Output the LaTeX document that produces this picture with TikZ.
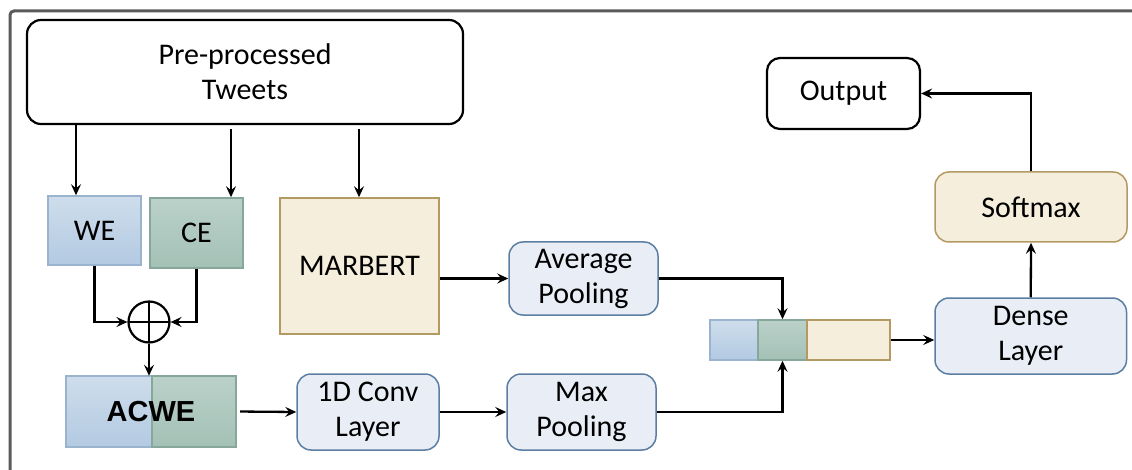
\documentclass[tikz,border=0pt]{standalone}
\usepackage{fontspec}
\setmainfont{Carlito}
\setsansfont{Liberation Sans}
\usetikzlibrary{arrows.meta,calc}

\definecolor{frameg}{HTML}{5A5A5A}
\definecolor{weTop}{HTML}{CEDDEB}
\definecolor{weBot}{HTML}{B3CAE2}
\definecolor{weLine}{HTML}{9AB4D0}
\definecolor{ceTop}{HTML}{BAD1C9}
\definecolor{ceBot}{HTML}{A4C1B6}
\definecolor{ceLine}{HTML}{87A79B}
\definecolor{beige}{HTML}{F6EEDC}
\definecolor{beigeLine}{HTML}{B39A62}
\definecolor{layerFill}{HTML}{E9EEF6}
\definecolor{layerLine}{HTML}{5C7EA2}

\tikzset{
  txt/.style={font=\fontsize{30}{35}\selectfont, align=center, inner sep=0pt},
  whitebox/.style={txt, draw=black, line width=2.2pt, fill=white, rounded corners=14pt},
  layerbox/.style={txt, draw=layerLine, line width=1.5pt, fill=layerFill, rounded corners=14pt},
  softbox/.style={txt, draw=beigeLine, line width=1.5pt, fill=beige, rounded corners=14pt},
  weblock/.style={txt, draw=weLine, line width=1.5pt, top color=weTop, bottom color=weBot},
  ceblock/.style={txt, draw=ceLine, line width=1.5pt, top color=ceTop, bottom color=ceBot},
  beblock/.style={txt, draw=beigeLine, line width=1.5pt, fill=beige},
  arr/.style={-{Stealth[length=11pt,width=10pt,inset=4pt]}, line width=2.3pt, black},
}

\begin{document}
\begin{tikzpicture}[x=1pt,y=-1pt]
\useasboundingbox (0,0) rectangle (1132,470);
% white page, reaching a little past the page edges
\fill[white] (-8,-8) rectangle (1140,478);

% outer frame: left and top edges only
\draw[frameg, line width=3pt] (10,478) -- (10,15) arc[start angle=180, end angle=270, radius=4] -- (1140,11);

% input and output
\node[whitebox, minimum width=436pt, minimum height=104pt] (tweets) at (245,72) {Pre-processed\\Tweets};
\node[whitebox, rounded corners=13pt, minimum width=153pt, minimum height=71pt] (output) at (843.5,93.5) {Output};

% embeddings
\node[weblock, minimum width=93pt, minimum height=69pt] (we) at (94.5,230.5) {WE};
\node[ceblock, minimum width=93pt, minimum height=70pt] (ce) at (196.5,233) {CE};
\node[beblock, minimum width=159pt, minimum height=136pt] (marbert) at (359.5,266) {MARBERT};

% element-wise sum
\node[circle, draw=black, line width=2.2pt, minimum size=41pt, inner sep=0pt,
      path picture={\draw[line width=2pt] (path picture bounding box.north) -- (path picture bounding box.south)
                    (path picture bounding box.west) -- (path picture bounding box.east);}] (plus) at (149,322) {};

% ACWE block (two halves)
\node[weblock, minimum width=86pt, minimum height=71pt] (acweL) at (109,411.5) {};
\node[ceblock, minimum width=84pt, minimum height=71pt] (acweR) at (194,411.5) {};
\node[inner sep=0pt, minimum width=170pt, minimum height=71pt, font=\sffamily\bfseries\fontsize{29}{35}\selectfont] (acwe) at (151,411.5) {ACWE};

% layers
\node[layerbox, minimum width=142pt, minimum height=76pt] (conv) at (368,412) {1D Conv\\Layer};
\node[layerbox, minimum width=149pt, minimum height=73pt] (avg) at (583.5,278.5) {Average\\Pooling};
\node[layerbox, minimum width=149pt, minimum height=76pt] (max) at (581.5,412) {Max\\Pooling};

% concatenated vector
\node[weblock, minimum width=48.5pt, minimum height=40pt] (cb) at (734,340) {};
\node[ceblock, minimum width=49pt, minimum height=40pt] (cg) at (782.5,340) {};
\node[beblock, minimum width=83pt, minimum height=40pt] (cy) at (848.5,340) {};

\node[layerbox, minimum width=191.5pt, minimum height=76pt] (dense) at (1030.75,336) {Dense\\Layer};
\node[softbox, minimum width=192pt, minimum height=70pt] (softmax) at (1031,207) {Softmax};

% connectors
\coordinate (x1) at (76,0);
\coordinate (x2) at (231,0);
\coordinate (x3) at (359,0);
\draw[arr] (tweets.south -| x1) -- (we.north -| x1);
\draw[arr, shorten <=4pt] (tweets.south -| x2) -- (ce.north -| x2);
\draw[arr, shorten <=4pt] (tweets.south -| x3) -- (marbert.north -| x3);

\draw[arr] (we.south) |- (plus.west);
\draw[arr] (ce.south) |- (plus.east);
\draw[arr] (plus.south) -- (plus.south |- acwe.north);

\draw[arr, shorten <=4pt] (acwe.east) -- (conv.west);
\draw[arr] (conv.east) -- (max.west);
\draw[arr] (marbert.east |- avg.west) -- (avg.west);

\draw[arr] (avg.east) -| (cg.north);
\draw[arr] (max.east) -| (cg.south);
\draw[arr] (cy.east) -- (cy.east -| dense.west);
\draw[arr] (dense.north) -- (softmax.south);
\draw[arr] (softmax.north) |- (output.east);
\end{tikzpicture}
\end{document}
